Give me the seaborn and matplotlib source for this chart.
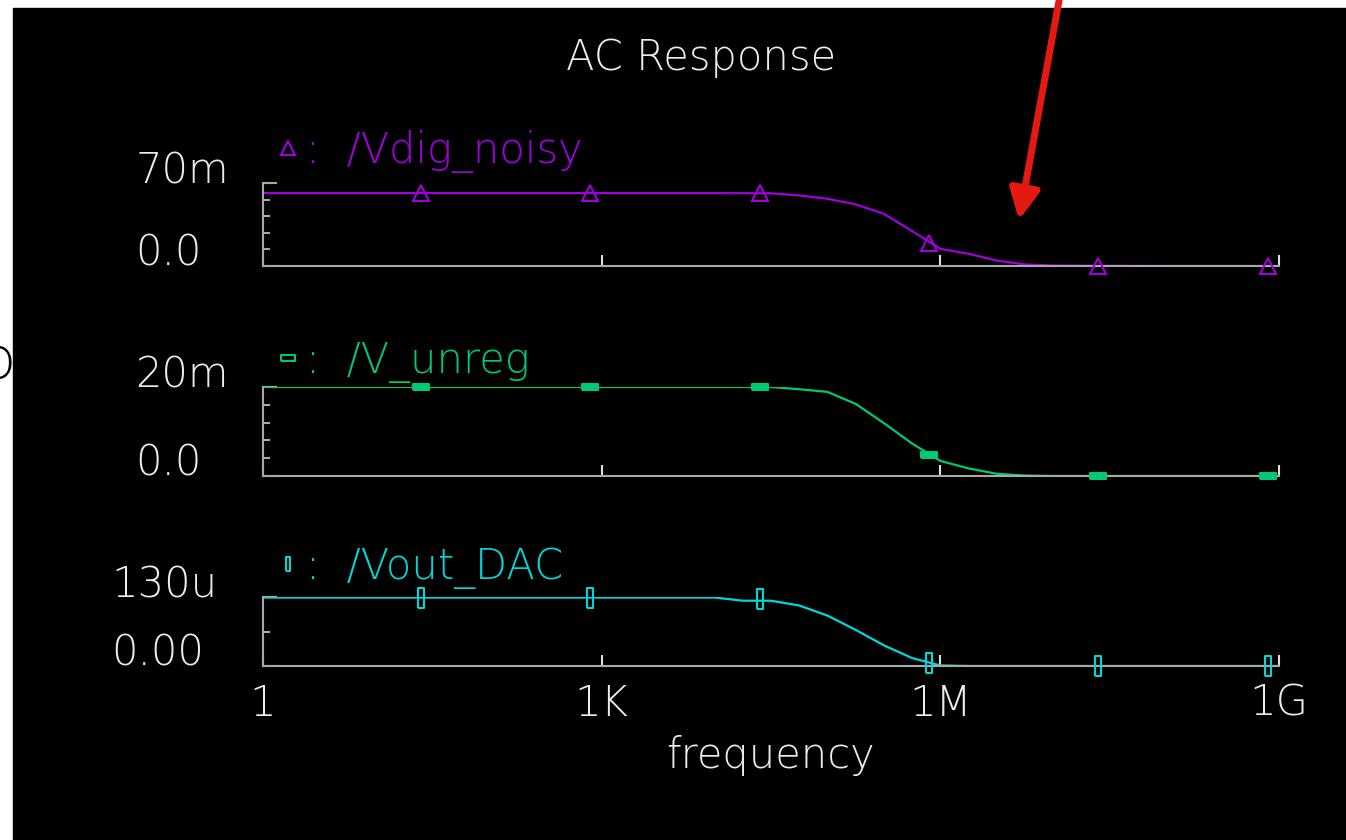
import numpy as np
import pandas as pd
import seaborn as sns
import matplotlib.pyplot as plt
from matplotlib.lines import Line2D
from matplotlib.patches import Rectangle
from matplotlib.ticker import FixedLocator, NullLocator

freq = [1, 10, 100, 1e3, 1e4, 1.78e4, 3.16e4, 5.62e4, 1e5, 1.78e5, 3.16e5,
        5.62e5, 1e6, 1.78e6, 3.16e6, 5.62e6, 1e7, 3.16e7, 1e8, 1e9]

# /Vdig_noisy in mV
dig_noisy = [61.5, 61.5, 61.5, 61.5, 61.5, 61.4, 61.3, 59.5, 56.7, 52.0, 44.0,
             29.5, 14.5, 10.3, 4.6, 1.3, 0.4, 0.1, 0.0, 0.0]
# /V_unreg in mV
v_unreg = [20.0, 20.0, 20.0, 20.0, 20.0, 20.0, 20.0, 19.5, 18.9, 16.2, 11.9,
           7.3, 3.4, 1.7, 0.5, 0.1, 0.0, 0.0, 0.0, 0.0]
# /Vout_DAC in uV
out_dac = [129, 129, 129, 129, 129, 123, 123, 114, 95, 68, 39,
           15, 1, 0, 0, 0, 0, 0, 0, 0]

# waveform markers
mark_freq = [25, 794, 2.51e4, 7.94e5, 2.51e7, 7.94e8]
dig_marks = [61.5, 61.5, 61.5, 19.5, 0.0, 0.0]
unreg_marks = [20.0, 20.0, 20.0, 4.7, 0.0, 0.0]
dac_marks = [129, 129, 126, 5, 0, 0]

names = ["/Vdig_noisy", "/V_unreg", "/Vout_DAC"]
y_tops = [70, 20, 130]
y_labels = [["0.0", "70m"], ["0.0", "20m"], ["0.00", "130u"]]
y_minor = [[14, 28, 42, 56], [4, 8, 12, 16], [65]]
x_ticks = [1, 1e3, 1e6, 1e9]
x_labels = ["1", "1K", "1M", "1G"]

# --- STYLE ---
W, H = 1346, 840
COLORS = ["#a000dc", "#00c874", "#00d8d8"]
GRAY = "#a8a8a8"
TXT = "#ececec"
WIDE_RECT = [(-1, -0.4), (1, -0.4), (1, 0.4), (-1, 0.4), (-1, -0.4)]
TALL_RECT = [(-0.35, -1), (0.35, -1), (0.35, 1), (-0.35, 1), (-0.35, -1)]
MARKERS = ["^", WIDE_RECT, TALL_RECT]
MARK_FILL = ["none", COLORS[1], "none"]
MARK_SIZE = [11, 11, 14]

# pixel boxes (left, top, right, bottom) of the three strips
BOXES = [(263, 183, 1279, 266), (263, 387, 1279, 476), (263, 597, 1279, 666)]
LABEL_PAD = [92, 92, 109]
LEGEND_Y = [173, 383, 589]

sns.set_style("ticks")
plt.rcParams["font.family"] = ["DejaVu Sans"]
plt.rcParams["font.weight"] = "light"


def px_box(l, t, r, b):
    return [l / W, 1 - b / H, (r - l) / W, (b - t) / H]


fig = plt.figure(figsize=(W / 100, H / 100), dpi=100, facecolor="white")
# black screenshot area, white margin top/left
fig.patches.append(Rectangle((13 / W, 0), 1, 832 / H, transform=fig.transFigure,
                             color="black", zorder=-1))
fig.text(-20 / W, 1 - 378 / H, "b", fontsize=41, color="black", ha="left",
         va="baseline", zorder=-2)

series = [dig_noisy, v_unreg, out_dac]
marks = [dig_marks, unreg_marks, dac_marks]
axes = []

for i in range(3):
    ax = fig.add_axes(px_box(*BOXES[i]))
    axes.append(ax)
    c = COLORS[i]
    df = pd.DataFrame({"freq": freq, "val": series[i]})
    sns.lineplot(data=df, x="freq", y="val", ax=ax, color=c, lw=1.6)
    ax.plot(mark_freq, marks[i], ls="none", marker=MARKERS[i], ms=MARK_SIZE[i],
            mfc=MARK_FILL[i], mec=c, mew=1.5, clip_on=False, zorder=4)

    ax.set_xscale("log")
    ax.set_xlim(1, 1e9)
    ax.set_ylim(0, y_tops[i])
    ax.set_facecolor("none")
    ax.grid(False)
    for s in ["top", "right"]:
        ax.spines[s].set_visible(False)
    for s in ["left", "bottom"]:
        ax.spines[s].set_color(GRAY)
        ax.spines[s].set_linewidth(1.5)

    ax.set_yticks([0, y_tops[i]])
    ax.set_yticklabels(y_labels[i])
    ax.yaxis.set_minor_locator(FixedLocator(y_minor[i]))
    ax.tick_params(axis="y", which="major", direction="in", length=10, width=1.5,
                   color=GRAY, labelcolor=TXT, labelsize=30, pad=LABEL_PAD[i])
    ax.tick_params(axis="y", which="minor", direction="in", length=5, width=1.5,
                   color=GRAY)
    for lab in ax.get_yticklabels():
        lab.set_ha("left")
        lab.set_va("baseline")

    ax.set_xticks(x_ticks)
    ax.xaxis.set_minor_locator(NullLocator())
    ax.tick_params(axis="x", which="major", direction="in", length=8, width=1.5,
                   color="#dddddd", labelcolor=TXT, labelsize=30, pad=12)
    if i == 2:
        ax.set_xticklabels(x_labels)
    else:
        ax.tick_params(axis="x", labelbottom=False)
    ax.set_xlabel("")
    ax.set_ylabel("")

    h = Line2D([], [], ls="none", marker=MARKERS[i], ms=10, mfc="none", mec=c, mew=1.5)
    ax.legend([h], [":  " + names[i]], loc="lower left",
              bbox_to_anchor=(277 / W, 1 - LEGEND_Y[i] / H), bbox_transform=fig.transFigure,
              frameon=False, borderpad=0, borderaxespad=0, handlelength=0.55,
              handletextpad=0.15, fontsize=30, labelcolor=c)

axes[2].set_xlabel("frequency", color=TXT, fontsize=30, fontweight="light", labelpad=8)
fig.text(701 / W, 1 - 58 / H, "AC Response", color=TXT, fontsize=30,
         ha="center", va="center")

# red call-out arrow
axes[0].annotate("", xy=(1019, H - 220), xycoords="figure pixels",
                 xytext=(1061, H + 10), textcoords="figure pixels",
                 arrowprops=dict(arrowstyle="-|>,head_length=0.9,head_width=0.45",
                                 color="#e41a12", lw=5, shrinkA=0, shrinkB=0,
                                 mutation_scale=20),
                 annotation_clip=False)

plt.savefig("out.png", dpi=100, facecolor="white")
